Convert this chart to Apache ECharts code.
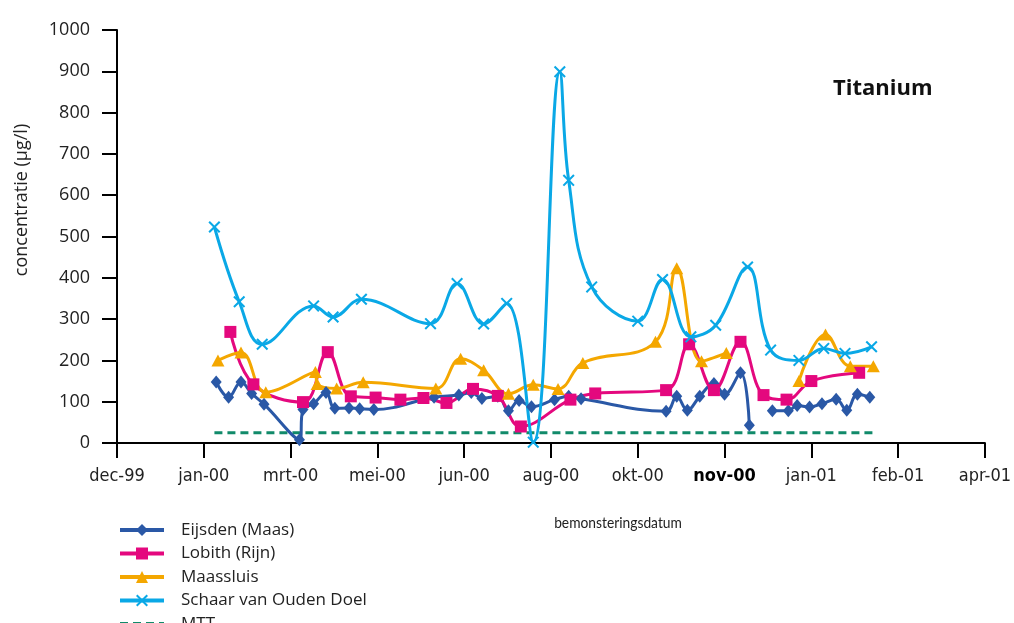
<!DOCTYPE html>
<html>
<head>
<meta charset="utf-8">
<script src="https://cdn.jsdelivr.net/npm/echarts@6/dist/echarts.min.js"></script>
<style>
html,body{margin:0;padding:0;background:#fff;}
#chart{width:1014px;height:623px;}
</style>
</head>
<body>
<div id="chart"></div>
<script>
// ---- data ----
const axisStart = '1999-12-12';
const tickLabels = ['dec-99','jan-00','mrt-00','mei-00','jun-00','aug-00','okt-00','nov-00','jan-01','feb-01','apr-01'];
const yTicks = [0,100,200,300,400,500,600,700,800,900,1000];

const eijsdenDates = ['2000-02-06','2000-02-13','2000-02-20','2000-02-26','2000-03-04','2000-03-24','2000-03-26','2000-04-01','2000-04-08','2000-04-13','2000-04-21','2000-04-27','2000-05-05','2000-06-08','2000-06-22','2000-06-29','2000-07-05','2000-07-14','2000-07-20','2000-07-26','2000-08-02','2000-08-15','2000-08-23','2000-08-30','2000-10-17','2000-10-23','2000-10-29','2000-11-05','2000-11-13','2000-11-19','2000-11-28','2000-12-03','2000-12-10','2000-12-16','2000-12-25','2000-12-30','2001-01-06','2001-01-13','2001-01-21','2001-01-27','2001-02-02','2001-02-09'];
const eijsdenValues = [148,111,148,120,94,8,81,95,122,84,85,83,81,111,116,122,108,113,78,103,88,105,113,107,77,113,79,113,144,118,170,43,null,78,78,91,87,95,106,79,118,111];

const lobithDates = ['2000-02-14','2000-02-27','2000-03-26','2000-04-09','2000-04-22','2000-05-06','2000-05-20','2000-06-02','2000-06-15','2000-06-30','2000-07-14','2000-07-27','2000-08-24','2000-09-07','2000-10-17','2000-10-30','2000-11-13','2000-11-28','2000-12-11','2000-12-24','2001-01-07','2001-02-03'];
const lobithValues = [269,142,99,220,113,110,105,109,97,131,114,40,105,120,128,239,128,245,116,105,150,170];

const maassluisDates = ['2000-02-07','2000-02-20','2000-03-05','2000-04-02','2000-04-03','2000-04-14','2000-04-29','2000-06-09','2000-06-23','2000-07-06','2000-07-20','2000-08-03','2000-08-17','2000-08-31','2000-10-11','2000-10-23','2000-11-06','2000-11-20','2000-12-10','2000-12-31','2001-01-15','2001-01-29','2001-02-11'];
const maassluisValues = [200,219,123,172,143,132,147,132,204,176,119,141,131,194,245,423,198,218,null,150,263,186,186];

const schaarDates = ['2000-02-05','2000-02-19','2000-03-03','2000-04-01','2000-04-12','2000-04-28','2000-06-06','2000-06-21','2000-07-06','2000-07-19','2000-08-03','2000-08-18','2000-08-23','2000-09-05','2000-10-01','2000-10-15','2000-10-31','2000-11-14','2000-12-02','2000-12-15','2000-12-31','2001-01-14','2001-01-26','2001-02-10'];
const schaarValues = [523,342,239,332,305,348,289,386,288,338,2,899,636,378,295,396,257,285,426,225,200,229,217,233];

const mttDates = ['2000-02-05','2001-02-11'];
const mttValues = [25,25];

const seriesNames = ['Eijsden (Maas)','Lobith (Rijn)','Maassluis','Schaar van Ouden Doel','MTT'];

// ---- helpers ----
function dayOf(s){
  const p = s.split('-').map(Number);
  const b = axisStart.split('-').map(Number);
  return Math.round((Date.UTC(p[0],p[1]-1,p[2]) - Date.UTC(b[0],b[1]-1,b[2]))/86400000);
}
function pairs(dates, vals){
  return dates.map((d,i)=>[dayOf(d), vals[i]===null ? '-' : vals[i]]);
}
const crossPath = 'path://M0,1.2 L1.2,0 L5,3.8 L8.8,0 L10,1.2 L6.2,5 L10,8.8 L8.8,10 L5,6.2 L1.2,10 L0,8.8 L3.8,5 Z';
const FONT = "'Open Sans', 'Noto Sans', sans-serif";
const NARROW = "'Liberation Sans Narrow', 'DejaVu Sans Condensed', sans-serif";

const chart = echarts.init(document.getElementById('chart'), null, {renderer:'canvas'});

function lineSeries(name, data, color, symbol, size){
  return {
    name, type:'line', data, smooth:0.4, connectNulls:false,
    symbol, symbolSize:size, showSymbol:true,
    lineStyle:{color, width:3},
    itemStyle:{color, borderWidth:0},
    emphasis:{disabled:true}, animation:false, z:2
  };
}

const option = {
  animation:false,
  grid:{left:117, right:28, top:30, bottom:180},
  xAxis:{
    type:'value', min:0, max:490, interval:49,
    axisLine:{show:true, onZero:false, lineStyle:{color:'#000', width:2}},
    axisTick:{show:true, length:15, lineStyle:{color:'#000', width:2}},
    splitLine:{show:false},
    axisLabel:{
      margin:24, fontFamily:NARROW, fontSize:18, color:'#222',
      formatter:function(v){
        const i = Math.round(v/49);
        const t = tickLabels[i] || '';
        return i===7 ? '{b|'+t+'}' : t;
      },
      rich:{b:{fontFamily:NARROW, fontSize:18, color:'#000', fontWeight:'bold'}}
    }
  },
  yAxis:{
    type:'value', min:yTicks[0], max:yTicks[yTicks.length-1], interval:100,
    axisLine:{show:true, lineStyle:{color:'#000', width:2}},
    axisTick:{show:true, length:15, lineStyle:{color:'#000', width:2}},
    splitLine:{show:false},
    axisLabel:{margin:27, fontFamily:FONT, fontSize:18, color:'#222', formatter:function(v){return String(v);}}
  },
  legend:{
    orient:'vertical', left:113, top:515, height:200,
    itemWidth:44, itemHeight:15, itemGap:3.5,
    lineStyle:{width:4},
    textStyle:{fontFamily:FONT, fontSize:17, color:'#222', lineHeight:20, padding:[0,0,0,12]},
    data:seriesNames.slice(0,4).concat([{name:seriesNames[4], itemStyle:{opacity:0}}])
  },
  graphic:[
    {type:'text', left:833, top:78, style:{text:'Titanium', font:"bold 22px 'Open Sans', sans-serif", fill:'#111'}},
    {type:'text', x:618, y:523, scaleX:0.92, style:{text:'bemonsteringsdatum', font:"15px Lato, 'Open Sans', sans-serif", fill:'#222', textAlign:'center', textVerticalAlign:'middle'}},
    {type:'text', x:22, y:200, rotation:Math.PI/2, style:{text:'concentratie (µg/l)', font:"18px 'Open Sans', sans-serif", fill:'#222', textAlign:'center', textVerticalAlign:'middle'}}
  ],
  series:[
    lineSeries(seriesNames[0], pairs(eijsdenDates, eijsdenValues), '#2A58A6', 'diamond', [11,13]),
    lineSeries(seriesNames[1], pairs(lobithDates, lobithValues), '#E4087E', 'rect', 12),
    lineSeries(seriesNames[2], pairs(maassluisDates, maassluisValues), '#F4A700', 'triangle', [13,12]),
    lineSeries(seriesNames[3], pairs(schaarDates, schaarValues), '#0AA8E6', crossPath, 12),
    {
      name:seriesNames[4], type:'line', data:pairs(mttDates, mttValues),
      symbol:'none', lineStyle:{color:'#118A6A', width:3, type:[8,5]},
      itemStyle:{color:'#118A6A'}, emphasis:{disabled:true}, z:1
    }
  ]
};
chart.setOption(option);
</script>
</body>
</html>
